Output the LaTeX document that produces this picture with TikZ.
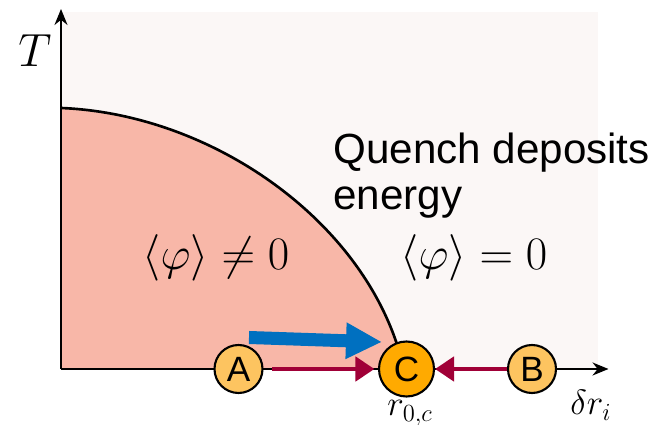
\RequirePackage{fix-cm}
\documentclass[tikz,border=0pt]{standalone}
\usepackage{amsmath}
\usepackage{fontspec}
\setsansfont{Liberation Sans}
\usetikzlibrary{arrows.meta}
\definecolor{bgpink}{RGB}{251,247,246}
\definecolor{orderfill}{RGB}{248,183,168}
\definecolor{ballA}{RGB}{253,196,96}
\definecolor{ballC}{RGB}{255,170,0}
\definecolor{flowred}{RGB}{160,0,55}
\definecolor{quenchblue}{RGB}{0,112,192}

\begin{document}
\begin{tikzpicture}[
        ball/.style={circle, draw, line width=1.2pt, minimum size=0.96cm, inner sep=0pt, font=\sffamily\fontsize{20}{22}\selectfont},
        axis/.style={-{Stealth[length=3.2mm, width=2.6mm]}, line width=1.2pt},
        flow/.style={-{Triangle[length=3.8mm, width=4.8mm]}, line width=2.8pt, draw=flowred},
        quench/.style={-{Triangle[length=7.2mm, width=6.8mm]}, line width=7.4pt, draw=quenchblue},
        bigmath/.style={font=\fontsize{26.5}{30}\selectfont, anchor=base},
        axlabel/.style={font=\fontsize{20}{24}\selectfont}
      ]
      \useasboundingbox (-1.22,-1.12) rectangle (11.98,7.38);
      \fill[bgpink] (0,0) rectangle (10.74,7.14);

      % ordered phase below the critical line
      \fill[orderfill] (0,5.22) .. controls (3.0,5.1) and (6.0,3.0) .. (6.78,0.3) -- (6.78,0) -- (0,0) -- cycle;
      \draw[line width=1.5pt] (0,5.22) .. controls (3.0,5.1) and (6.0,3.0) .. (6.78,0.3);

      \draw[axis] (0,0) -- (0,7.2);
      \draw[axis] (0,0) -- (10.95,0);
      \node[axlabel, font=\fontsize{26.5}{30}\selectfont] (tlab) at (-0.52,6.36) {$T$};
      \node[axlabel, anchor=base] (dlab) at (10.6,-0.92) {$\delta r_i$};

      \node[bigmath] (ordered) at (3.10,1.98) {$\langle\varphi\rangle\neq0$};
      \node[bigmath] (disordered) at (8.26,1.98) {$\langle\varphi\rangle=0$};
      \node[anchor=base west, align=left, inner sep=0pt, font=\sffamily\fontsize{24}{26.7}\selectfont] (qtext) at (5.44,3.18) {Quench deposits\\energy};

      \node[ball, fill=ballA] (A) at (3.55,0) {A};
      \node[ball, fill=ballC, minimum size=1.1cm] (C) at (6.91,0) {C};
      \node[ball, fill=ballA] (B) at (9.42,0) {B};
      \node[axlabel, anchor=base] (rc) at (6.98,-0.94) {$r_{0,c}$};

      \draw[flow, shorten <=5pt, shorten >=2pt] (A) -- (C);
      \draw[flow] (B) -- (C);

      \coordinate (qs) at (3.76,0.63);
      \coordinate (qe) at (6.42,0.54);
      \draw[quench] (qs) -- (qe);
    \end{tikzpicture}
\end{document}
